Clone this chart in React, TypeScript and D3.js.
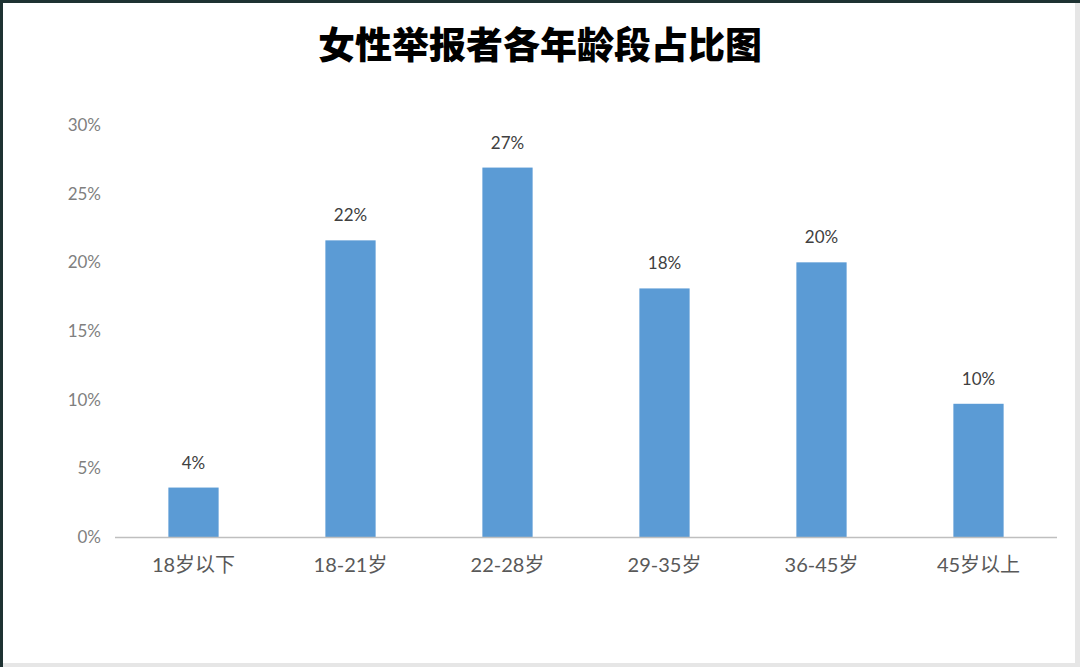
import { useEffect, useRef } from 'react';
import * as d3 from 'd3';

const categories = ['18岁以下', '18-21岁', '22-28岁', '29-35岁', '36-45岁', '45岁以上'];
const values = [3.6, 21.6, 26.9, 18.1, 20.0, 9.7];
const yTicks = [0, 5, 10, 15, 20, 25, 30];
const title = '女性举报者各年龄段占比图';

const W = 1080;
const H = 667;
const FONT = "Lato, 'Noto Sans CJK SC', sans-serif";

export default function App() {
  const svgRef = useRef<SVGSVGElement>(null);

  useEffect(() => {
    document.body.style.margin = '0';
    if (!svgRef.current) return;
    const svg = d3.select(svgRef.current);
    svg.selectAll('*').remove();

    // frame
    svg.append('rect').attr('width', W).attr('height', H).attr('fill', '#1e3232');
    svg.append('rect').attr('x', 3).attr('y', 3).attr('width', W - 3).attr('height', H - 3).attr('fill', '#e6e6e6');
    svg.append('rect').attr('x', 3).attr('y', 3).attr('width', W - 8).attr('height', H - 7).attr('fill', '#ffffff');

    const x = d3.scaleBand<string>().domain(categories).range([115, 1057]).paddingInner(0.68).paddingOuter(0.34);
    const y = d3.scaleLinear().domain([0, 30]).range([537, 125]);

    svg.append('text')
      .attr('x', 540)
      .attr('y', 59)
      .attr('text-anchor', 'middle')
      .attr('font-family', "'Noto Sans CJK SC', sans-serif")
      .attr('font-weight', 900)
      .attr('font-size', 37)
      .attr('fill', '#000')
      .text(title);

    // y tick labels
    yTicks.forEach(t => {
      svg.append('text')
        .attr('x', 101)
        .attr('y', y(t))
        .attr('dy', '0.35em')
        .attr('text-anchor', 'end')
        .attr('font-family', FONT)
        .attr('font-size', 17)
        .attr('fill', '#7f7f7f')
        .text(`${t}%`);
    });

    // bars
    categories.forEach((c, i) => {
      const v = values[i];
      svg.append('rect')
        .attr('x', x(c)!)
        .attr('y', y(v))
        .attr('width', x.bandwidth())
        .attr('height', y(0) - y(v))
        .attr('fill', '#5b9bd5');

      svg.append('text')
        .attr('x', x(c)! + x.bandwidth() / 2)
        .attr('y', y(v) - 19)
        .attr('text-anchor', 'middle')
        .attr('font-family', FONT)
        .attr('font-size', 17)
        .attr('fill', '#404040')
        .text(`${Math.round(v)}%`);

      svg.append('text')
        .attr('x', x(c)! + x.bandwidth() / 2)
        .attr('y', 572)
        .attr('text-anchor', 'middle')
        .attr('font-family', FONT)
        .attr('font-size', 20)
        .attr('fill', '#595959')
        .text(c);
    });

    // x axis line
    svg.append('line')
      .attr('x1', 115)
      .attr('x2', 1057)
      .attr('y1', y(0) + 0.5)
      .attr('y2', y(0) + 0.5)
      .attr('stroke', '#bfbfbf')
      .attr('stroke-width', 1.5);
  }, []);

  return <svg ref={svgRef} width={W} height={H} style={{ display: 'block' }} />;
}
